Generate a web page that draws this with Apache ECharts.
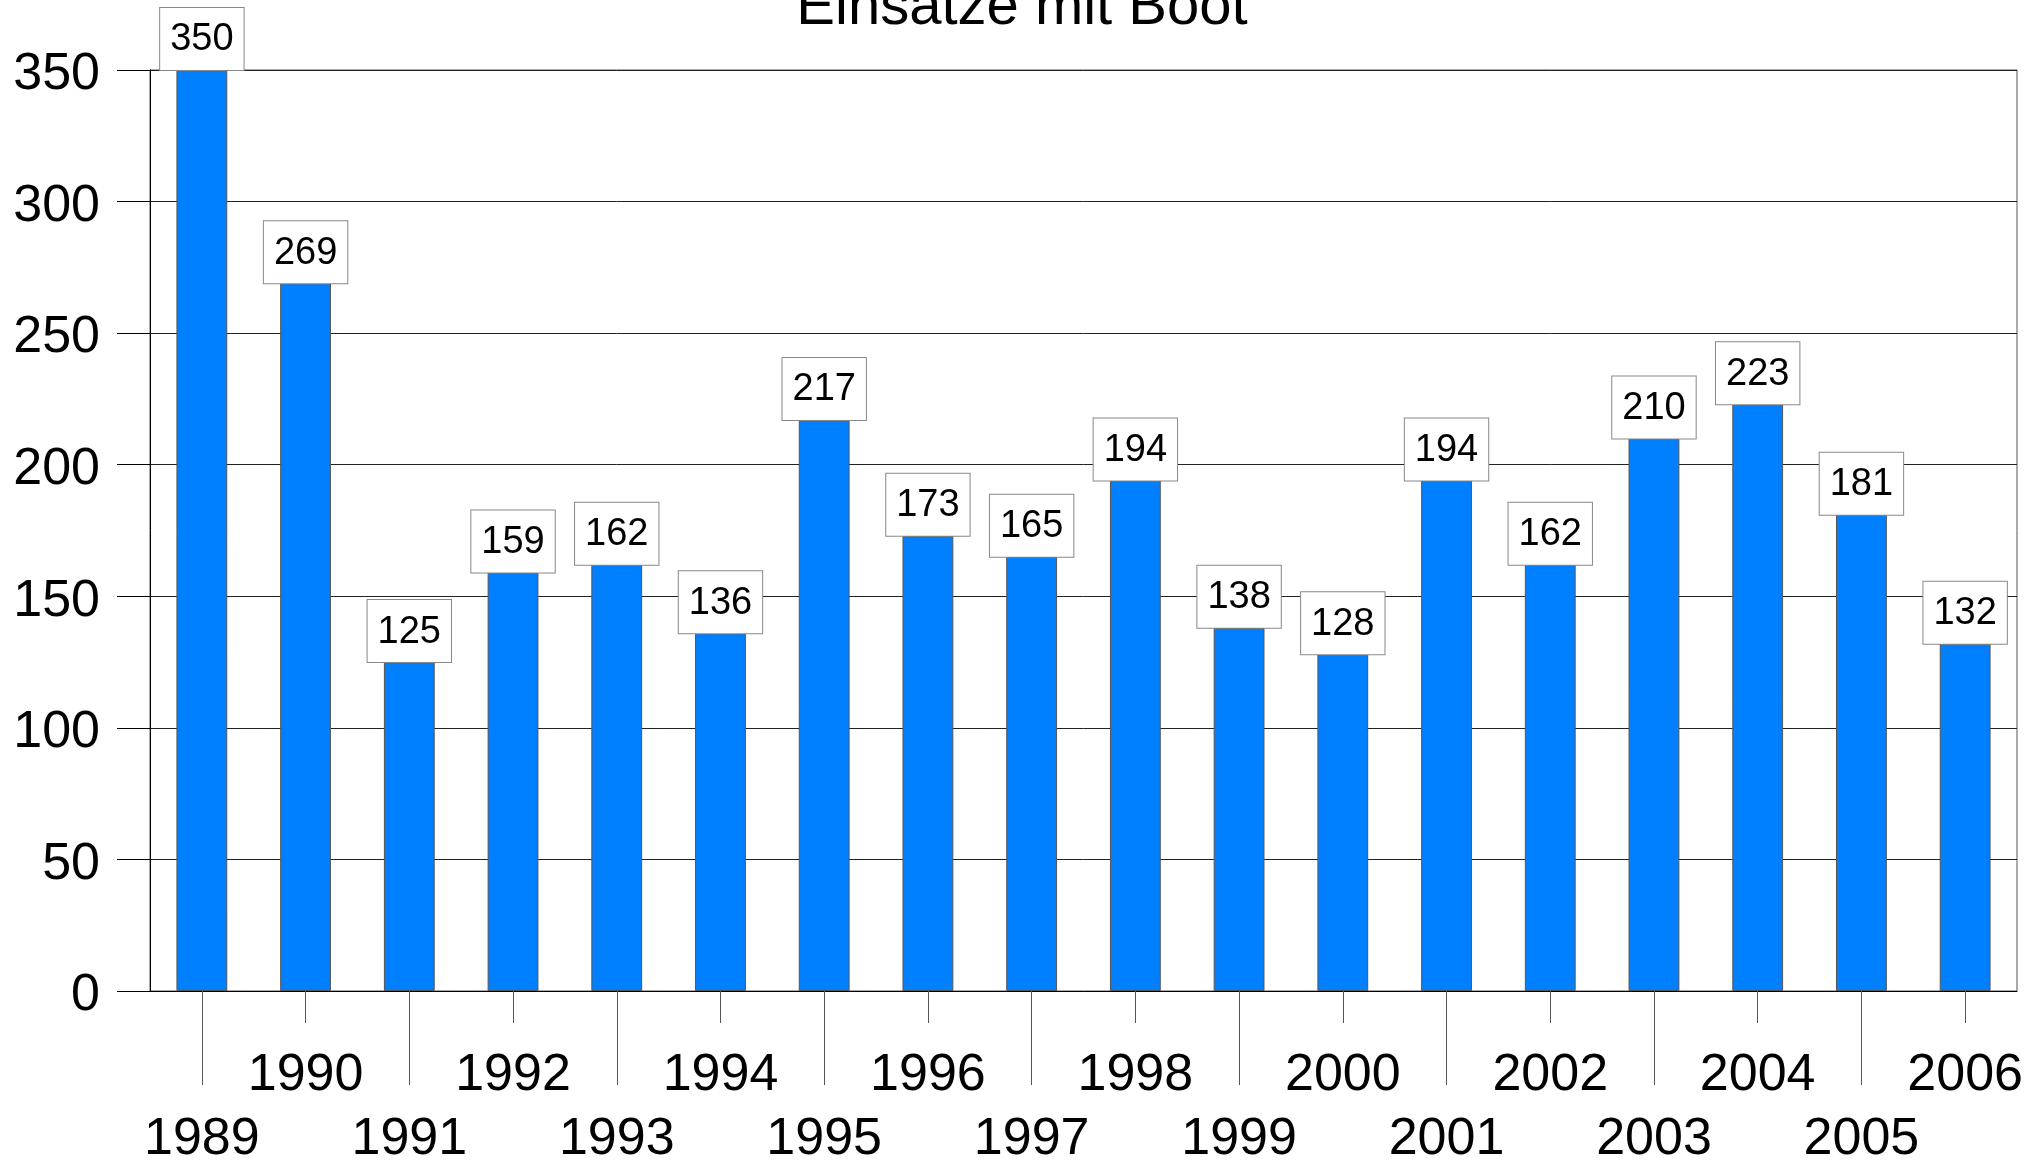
<!DOCTYPE html>
<html>
<head>
<meta charset="utf-8">
<script src="https://cdn.jsdelivr.net/npm/echarts@6/dist/echarts.min.js"></script>
<style>
  html, body { margin: 0; padding: 0; background: #fff; }
  #chart { width: 2044px; height: 1166px; }
</style>
</head>
<body>
<div id="chart"></div>
<script>
// data
var years = ['1989', '1990', '1991', '1992', '1993', '1994', '1995', '1996', '1997',
             '1998', '1999', '2000', '2001', '2002', '2003', '2004', '2005', '2006']
var einsaetze = [350, 269, 125, 159, 162, 136, 217, 173, 165, 194, 138, 128, 194, 162, 210, 223, 181, 132]
var titleText = 'Einsätze mit Boot'

var font = 'Liberation Sans, Arial, Helvetica, sans-serif'
var chart = echarts.init(document.getElementById('chart'))

chart.setOption({
    animation: false,
    backgroundColor: '#fff',
    title: {
        text: titleText,
        left: 'center',
        top: -26,
        textStyle: { fontFamily: font, fontSize: 58, fontWeight: 'normal', color: '#000' }
    },
    grid: {
        left: 150, right: 27, top: 70, bottom: 171,
        show: true, borderColor: '#555', borderWidth: 1, backgroundColor: 'transparent'
    },
    xAxis: [{
        // upper row: 1990, 1992 ... with short ticks
        type: 'category',
        data: years,
        position: 'bottom',
        axisLine: { show: true, lineStyle: { color: '#000', width: 1 } },
        axisTick: {
            show: true, alignWithLabel: true, length: 32,
            interval: function(index) { return index % 2 === 1 },
            lineStyle: { color: '#555' }
        },
        axisLabel: {
            interval: function(index) { return index % 2 === 1 },
            margin: 59,
            fontFamily: font, fontSize: 52, color: '#000'
        }
    }, {
        // lower row: 1989, 1991 ... with long ticks
        type: 'category',
        data: years,
        position: 'bottom',
        axisLine: { show: false },
        axisTick: {
            show: true, alignWithLabel: true, length: 94,
            interval: function(index) { return index % 2 === 0 },
            lineStyle: { color: '#555' }
        },
        axisLabel: {
            interval: function(index) { return index % 2 === 0 },
            margin: 123,
            fontFamily: font, fontSize: 52, color: '#000'
        }
    }],
    yAxis: {
        type: 'value',
        min: 0,
        max: 350,
        interval: 50,
        axisLine: { show: true, lineStyle: { color: '#000' } },
        axisTick: { show: true, length: 33, lineStyle: { color: '#000' } },
        axisLabel: {
            margin: 50,
            formatter: '{v|{value}}',
            rich: { v: { fontFamily: font, fontSize: 52, color: '#000', padding: [10, 0, 0, 0] } }
        },
        splitLine: { show: true, lineStyle: { color: '#222', width: 1 } }
    },
    series: [{
        type: 'bar',
        xAxisIndex: 0,
        data: einsaetze,
        barWidth: '49%',
        itemStyle: { color: '#0080ff', borderColor: '#555', borderWidth: 1 },
        label: {
            show: true,
            position: 'top',
            distance: 0,
            fontFamily: font,
            fontSize: 38,
            color: '#000',
            backgroundColor: '#fff',
            borderColor: '#888',
            borderWidth: 1,
            padding: [13, 10, 11, 10]
        }
    }]
})
</script>
</body>
</html>
